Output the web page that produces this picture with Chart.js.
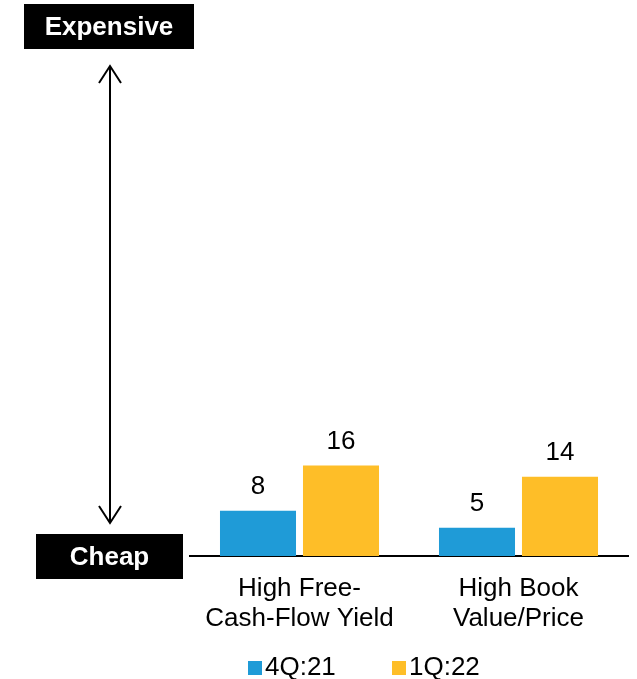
<!DOCTYPE html>
<html>
<head>
<meta charset="utf-8">
<script src="https://cdn.jsdelivr.net/npm/chart.js@4.4.1/dist/chart.umd.min.js"></script>
<style>
  html, body { margin: 0; padding: 0; background: #fff; }
  #wrap { width: 637px; height: 679px; position: relative; }
</style>
</head>
<body>
<div id="wrap"><canvas id="grafico"></canvas></div>
<script>
// datos del gráfico
const categorias = [["High Free-", "Cash-Flow Yield"], ["High Book", "Value/Price"]];
const series = ["4Q:21", "1Q:22"];
const valores4Q21 = [8, 5];
const valores1Q22 = [16, 14];
const colores = ["#1F9BD7", "#FEBE28"];

const FUENTE = "'Liberation Sans', Arial, sans-serif";

// etiquetas con el valor encima de cada barra
const etiquetasValor = {
    id: "etiquetasValor",
    afterDatasetsDraw(chart) {
        const ctx = chart.ctx;
        ctx.save();
        ctx.fillStyle = "#000";
        ctx.font = "26px " + FUENTE;
        ctx.textAlign = "center";
        ctx.textBaseline = "alphabetic";
        chart.data.datasets.forEach((ds, i) => {
            chart.getDatasetMeta(i).data.forEach((bar, j) => {
                ctx.fillText(String(ds.data[j]), bar.x, bar.y - 17);
            });
        });
        ctx.restore();
    }
};

// cajas Expensive / Cheap, flecha y leyenda
const extras = {
    id: "extras",
    afterDraw(chart) {
        const ctx = chart.ctx;
        ctx.save();

        const caja = (texto, x, y, w, h) => {
            ctx.fillStyle = "#000";
            ctx.fillRect(x, y, w, h);
            ctx.fillStyle = "#fff";
            ctx.font = "bold 26px " + FUENTE;
            ctx.textAlign = "center";
            ctx.textBaseline = "middle";
            ctx.fillText(texto, x + w / 2, y + h / 2 + 1);
        };
        caja("Expensive", 24, 4, 170, 45);
        caja("Cheap", 36, 534, 147, 45);

        // flecha doble
        const ax = 110, top = 66, bot = 523;
        ctx.strokeStyle = "#000";
        ctx.lineWidth = 2;
        ctx.beginPath();
        ctx.moveTo(ax, top);
        ctx.lineTo(ax, bot);
        ctx.moveTo(ax - 11, top + 17);
        ctx.lineTo(ax, top);
        ctx.lineTo(ax + 11, top + 17);
        ctx.moveTo(ax - 11, bot - 17);
        ctx.lineTo(ax, bot);
        ctx.lineTo(ax + 11, bot - 17);
        ctx.stroke();

        // leyenda
        ctx.font = "26px " + FUENTE;
        ctx.textAlign = "left";
        ctx.textBaseline = "alphabetic";
        chart.data.datasets.forEach((ds, i) => {
            const x = 248 + i * 144;
            ctx.fillStyle = ds.backgroundColor;
            ctx.fillRect(x, 661, 14, 14);
            ctx.fillStyle = "#000";
            ctx.fillText(ds.label, x + 17, 675);
        });

        ctx.restore();
    }
};

const ctx = document.getElementById("grafico").getContext("2d");
new Chart(ctx, {
    type: "bar",
    data: {
        labels: categorias,
        datasets: [
            { label: series[0], data: valores4Q21, backgroundColor: colores[0] },
            { label: series[1], data: valores1Q22, backgroundColor: colores[1] }
        ]
    },
    options: {
        responsive: true,
        maintainAspectRatio: false,
        devicePixelRatio: 1,
        animation: false,
        layout: { padding: { left: 190, right: 9, top: 47, bottom: 0 } },
        datasets: {
            bar: { categoryPercentage: 0.758, barPercentage: 0.916 }
        },
        plugins: {
            legend: { display: false },
            tooltip: { enabled: false }
        },
        scales: {
            x: {
                grid: { display: false, drawTicks: false },
                border: { display: true, color: "#000", width: 2 },
                ticks: {
                    color: "#000",
                    padding: 18,
                    autoSkip: false,
                    maxRotation: 0,
                    font: { family: FUENTE, size: 26, lineHeight: 1.154 }
                },
                afterFit: (s) => { s.height = 123; }
            },
            y: {
                display: false,
                min: 0,
                max: 90
            }
        }
    },
    plugins: [etiquetasValor, extras]
});
</script>
</body>
</html>
